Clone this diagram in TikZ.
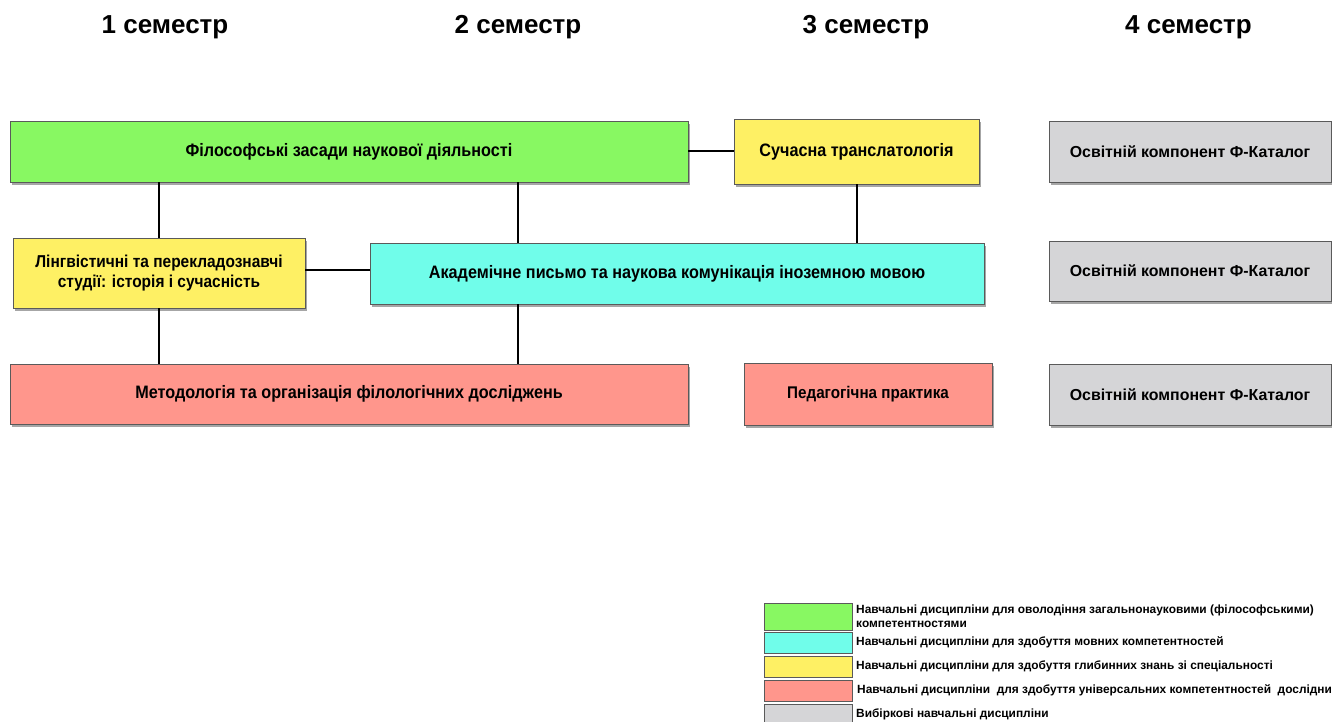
\documentclass[tikz,border=0pt]{standalone}
\usepackage{fontspec}
\setmainfont{Liberation Sans}
\newfontfamily\narrowfont[FakeStretch=0.9]{Liberation Sans}
\usetikzlibrary{shadows}
\definecolor{cgreen}{RGB}{136,248,98}
\definecolor{ccyan}{RGB}{112,253,234}
\definecolor{cyellow}{RGB}{254,240,100}
\definecolor{cred}{RGB}{255,150,140}
\definecolor{cgray}{RGB}{213,213,215}
\definecolor{cborder}{RGB}{90,90,90}
\tikzset{
  box/.style={draw=cborder, line width=0.8pt, inner sep=2pt, align=center,
    font=\narrowfont\bfseries\fontsize{18}{20}\selectfont,
    drop shadow={shadow xshift=1.5pt, shadow yshift=-3pt, opacity=0.35, fill=black}},
  grbox/.style={box, fill=cgray, font=\bfseries\fontsize{15.9}{19}\selectfont},
  head/.style={font=\bfseries\fontsize{26}{30}\selectfont},
  link/.style={line width=2pt, black},
  legbox/.style={draw=cborder, line width=0.8pt, inner sep=0pt},
  legtext/.style={anchor=west, align=left, inner sep=0pt, font=\bfseries\fontsize{11.9}{13.5}\selectfont}
}
\begin{document}
\begin{tikzpicture}[x=1pt, y=-1pt]
\useasboundingbox (0,0) rectangle (1332,722);
% headers
\node[head] (h1) at (165,27) {1 семестр};
\node[head] (h2) at (518,27) {2 семестр};
\node[head] (h3) at (866,27) {3 семестр};
\node[head] (h4) at (1188.5,27) {4 семестр};
% boxes
\node[box, fill=cgreen, minimum width=678pt, minimum height=61pt] (phil) at (349,151.5) {Філософські засади наукової діяльності};
\node[box, fill=cyellow, minimum width=245pt, minimum height=65pt] (trans) at (856.5,151.5) {Сучасна транслатологія};
\node[grbox, minimum width=282pt, minimum height=61pt] (g1) at (1190,151.5) {Освітній компонент Ф-Каталог};
\node[box, fill=cyellow, minimum width=292pt, minimum height=70pt, font=\narrowfont\bfseries\fontsize{17.2}{19.5}\selectfont] (ling) at (159,273) {Лінгвістичні та перекладознавчі\\студії: історія і сучасність};
\node[box, fill=ccyan, minimum width=614pt, minimum height=61pt] (acad) at (677,273.5) {Академічне письмо та наукова комунікація іноземною мовою};
\node[grbox, minimum width=282pt, minimum height=60pt] (g2) at (1190,271) {Освітній компонент Ф-Каталог};
\node[box, fill=cred, minimum width=678pt, minimum height=60pt] (meth) at (349,394) {Методологія та організація філологічних досліджень};
\node[box, fill=cred, minimum width=248pt, minimum height=62pt, font=\narrowfont\bfseries\fontsize{16.9}{19}\selectfont] (ped) at (868,394) {Педагогічна практика};
\node[grbox, minimum width=282pt, minimum height=61pt] (g3) at (1190,394.5) {Освітній компонент Ф-Каталог};
% connectors
\coordinate (c2) at (518,0);
\draw[link] (phil.east) -- (trans.west);
\draw[link] (ling.north |- phil.south) -- (ling.north);
\draw[link] (c2 |- phil.south) -- (c2 |- acad.north);
\draw[link] (trans.south) -- (trans.south |- acad.north);
\draw[link] ([yshift=3pt]ling.east) -- ([yshift=3pt]ling.east -| acad.west);
\draw[link] (ling.south) -- (ling.south |- meth.north);
\draw[link] (c2 |- acad.south) -- (c2 |- meth.north);
% legend
\node[legbox, fill=cgreen, minimum width=88pt, minimum height=27pt] (l1) at (808,616.5) {};
\node[legbox, fill=ccyan, minimum width=88pt, minimum height=21pt] (l2) at (808,642.5) {};
\node[legbox, fill=cyellow, minimum width=88pt, minimum height=21pt] (l3) at (808,667) {};
\node[legbox, fill=cred, minimum width=88pt, minimum height=21pt] (l4) at (808,691) {};
\node[legbox, fill=cgray, minimum width=88pt, minimum height=21pt] (l5) at (808,715) {};
\node[legtext] (t1) at (856,616) {Навчальні дисципліни для оволодіння загальнонауковими (філософськими)\\компетентностями};
\node[legtext] (t2) at (856,642) {Навчальні дисципліни для здобуття мовних компетентностей};
\node[legtext] (t3) at (856,666) {Навчальні дисципліни для здобуття глибинних знань зі спеціальності};
\node[legtext] (t4) at (857,690) {Навчальні дисципліни\ \ для здобуття універсальних компетентностей\ \ дослідника};
\node[legtext] (t5) at (856,714) {Вибіркові навчальні дисципліни};
\end{tikzpicture}
\end{document}
